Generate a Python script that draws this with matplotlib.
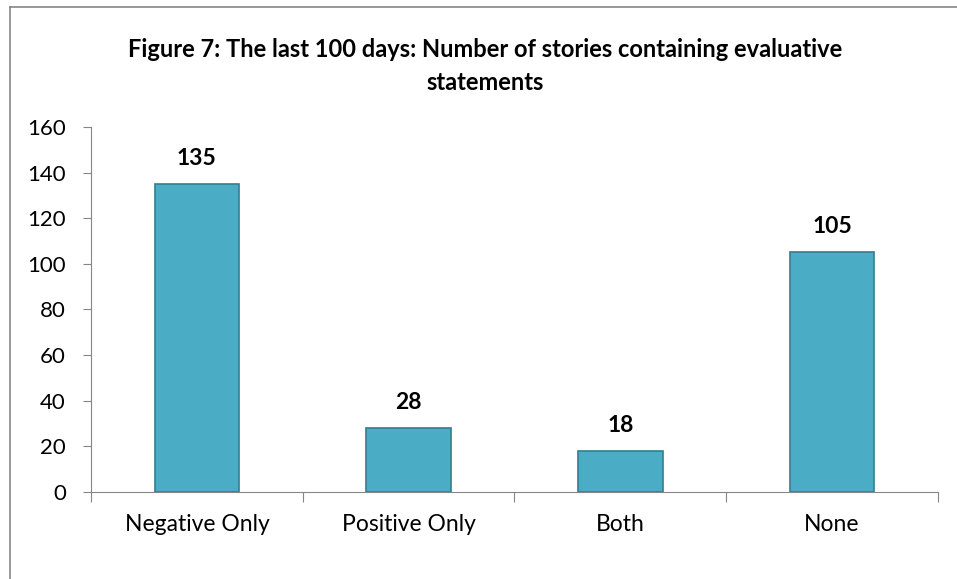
import matplotlib

matplotlib.use("Agg")
import matplotlib.pyplot as plt
from matplotlib.lines import Line2D

categories = ["Negative Only", "Positive Only", "Both", "None"]
counts = [135, 28, 18, 105]
y_ticks = [0, 20, 40, 60, 80, 100, 120, 140, 160]

plt.rcParams["font.family"] = ["Lato", "DejaVu Sans"]

fig = plt.figure(figsize=(9.57, 5.79), dpi=100)
ax = fig.add_axes([0.0951, 0.1503, 0.885, 0.6304])

x = range(len(categories))
ax.bar(x, counts, width=0.4, color="#4BACC6", edgecolor="#357D91", linewidth=1.2)
for xi, v in zip(x, counts):
    ax.annotate(str(v), (xi, v), xytext=(0, 11), textcoords="offset points",
                ha="center", va="bottom", fontsize=16.5, fontweight="bold")

ax.set_xlim(-0.5, len(categories) - 0.5)
ax.set_ylim(0, 160)
ax.set_yticks(y_ticks)
ax.tick_params(axis="y", labelsize=16, length=6, color="#868686", pad=12)
ax.set_xticks([i + 0.5 for i in range(-1, len(categories))])
ax.set_xticklabels([])
ax.set_xticks(list(x), minor=True)
ax.set_xticklabels(categories, minor=True)
ax.tick_params(axis="x", which="major", length=7, color="#868686")
ax.tick_params(axis="x", which="minor", length=0, labelsize=16.5, pad=16)

for s in ["top", "right"]:
    ax.spines[s].set_visible(False)
for s in ["left", "bottom"]:
    ax.spines[s].set_color("#868686")

fig.text(0.507, 0.886, "Figure 7: The last 100 days: Number of stories containing evaluative\nstatements",
         ha="center", va="center", fontsize=17, fontweight="bold", linespacing=1.5)

# chart area border (top and left)
fig.add_artist(Line2D([0.0105, 0.0105], [0, 0.988], color="#868686", lw=1.2))
fig.add_artist(Line2D([0.0105, 1.0], [0.988, 0.988], color="#868686", lw=1.2))

fig.savefig("out.png", dpi=100)
